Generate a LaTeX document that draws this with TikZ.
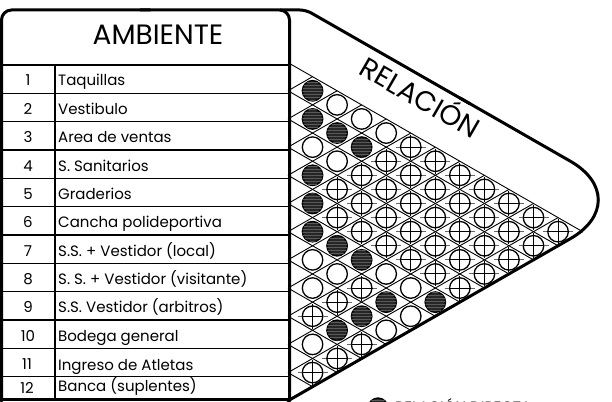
\documentclass[tikz,border=0pt]{standalone}
\usepackage{fontspec}
\setmainfont{Poppins}
\usetikzlibrary{patterns}
\tikzset{
  gridline/.style={line width=0.9pt, black},
  frame/.style={line width=3pt, black, line cap=round, line join=round},
  rowline/.style={line width=1.2pt, black},
  relbase/.style={circle, draw, line width=1.3pt, minimum size=20.5pt, inner sep=0pt},
  relF/.style={relbase, fill=black!85, postaction={pattern=horizontal lines, pattern color=black!65}},
  relO/.style={relbase, fill=white},
  relX/.style={relbase, fill=white},
  crossh/.style={line width=1pt, black!60},
  crossv/.style={line width=1pt, black},
  rowtext/.style={anchor=base west, inner sep=0pt, font=\fontsize{15}{15}\selectfont},
  numtext/.style={anchor=base, inner sep=0pt, font=\fontsize{15}{15}\selectfont},
}
\begin{document}
\begin{tikzpicture}[x=1pt,y=-1pt]
\useasboundingbox (0,0) rectangle (612,401);
\clip (0,0) rectangle (612,401);

% ---- triangular grid
\foreach \k in {0,...,12} {
  \pgfmathsetmacro\bk{62.6+28.18*\k}
  \pgfmathsetmacro\dn{(12-\k)*24.55}
  \pgfmathsetmacro\dnv{(12-\k)*14.09}
  \pgfmathsetmacro\up{\k*24.55}
  \pgfmathsetmacro\upv{\k*14.09}
  \coordinate (g\k) at (288,\bk);
  \draw[gridline] (g\k) -- ++(\dn,\dnv);
  \draw[gridline] (g\k) -- ++(\up,-\upv);
}

% ---- relation circles
\foreach \i/\c in {1/1,2/1,2/2,2/3,4/1,5/1,6/1,6/2,6/3,6/6,7/4,8/3,9/2} {
  \node[relF] (r\i-\c) at ({288+\c*24.55},{62.6+14.09*(2*\i+\c-1)}) {};
}
\foreach \i/\c in {1/2,1/3,1/4,3/1,3/2,6/4,6/5,7/1,7/2,7/5,8/1,8/4,10/1} {
  \node[relO] (r\i-\c) at ({288+\c*24.55},{62.6+14.09*(2*\i+\c-1)}) {};
}
\foreach \i/\c in {1/5,1/6,1/7,1/8,1/9,1/10,1/11,
                   2/4,2/5,2/6,2/7,2/8,2/9,2/10,
                   3/3,3/4,3/5,3/6,3/7,3/8,3/9,
                   4/2,4/3,4/4,4/5,4/6,4/7,4/8,
                   5/2,5/3,5/4,5/5,5/6,5/7,
                   7/3,8/2,9/1,9/3,10/2,11/1} {
  \node[relX] (r\i-\c) at ({288+\c*24.55},{62.6+14.09*(2*\i+\c-1)}) {};
  \draw[crossh] (r\i-\c.center) +(-15,0) -- +(15,0);
  \draw[crossh, black] (r\i-\c.west) -- (r\i-\c.east);
  \draw[crossv] (r\i-\c.center) +(0,-12.5) -- +(0,12.5);
}

% ---- table
\foreach \k in {0,...,11} {
  \draw[rowline] (1.5,{65+28.34*\k}) -- (289,{65+28.34*\k});
}
\draw[rowline] (55,65) -- (55,399);

% ---- frame
\coordinate (apex) at (637.9,199.9);
\coordinate (lowend) at (288,400.8);
\draw[frame, rounded corners=10pt] (1.5,401) -- (1.5,10) -- (150,10);
\draw[frame, rounded corners=10pt] (140,10) -- (289.5,10) -- (289.5,401);
\draw[frame, rounded corners=6pt] (280,10) -- (306,10) -- (470,103.8);
\draw[frame, rounded corners=78pt] (460,98) -- (apex) -- (lowend);
\draw[frame] (1.5,399.3) -- (289.5,399.3);

% ---- texts
\node[anchor=base, inner sep=0pt, font=\fontsize{28}{28}\selectfont] (amb) at (158,45) {AMBIENTE};
\node[anchor=base, inner sep=0pt, rotate=-30, font=\fontsize{28}{28}\selectfont] (rel) at (415,106.5) {RELACIÓN};

\foreach \k/\txt [count=\n] in {1/Taquillas,2/Vestibulo,3/Area de ventas,4/S. Sanitarios,5/Graderios,
   6/Cancha polideportiva,7/S.S. + Vestidor (local),8/S. S. + Vestidor (visitante),
   9/S.S. Vestidor (arbitros),10/Bodega general} {
  \node[numtext] (n\k) at (28,{86+28.35*(\k-1)}) {\k};
  \node[rowtext] (t\k) at (58,{86+28.35*(\k-1)}) {\txt};
}
\node[numtext] (n11) at (27,369.5) {11};
\node[rowtext] (t11) at (58,370.5) {Ingreso de Atletas};
\node[numtext] (n12) at (27,393) {12};
\node[rowtext] (t12) at (58,391.7) {Banca (suplentes)};

% ---- legend (cut by the border)
\node[relF, minimum size=20pt] (leg) at (378,408) {};
\node[anchor=base west, inner sep=0pt, font=\fontsize{15}{15}\selectfont] (legt) at (395,412) {RELACIÓN DIRECTA};
\end{tikzpicture}
\end{document}
